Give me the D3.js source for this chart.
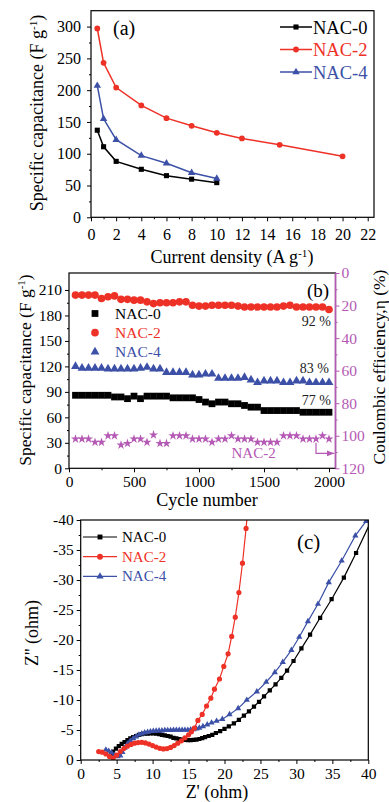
<!DOCTYPE html>
<html>
<head>
<meta charset="UTF-8">
<title>NAC electrochemistry</title>
<script src="https://cdn.jsdelivr.net/npm/d3@7"></script>
<style>
  body { margin: 0; background: #fff; }
  svg { display: block; }
  svg text { font-family: "Liberation Serif", "Times New Roman", serif; }
</style>
</head>
<body>
<script>
// ---------- data ----------
var names = ["NAC-0", "NAC-2", "NAC-4"];
var colors = ["#000000", "#ee3126", "#3b50a6"];
var purple = "#b459b4";

// (a) rate capability
var currA0 = [0.5, 1, 2, 4, 6, 8, 10];
var capA0 = [137, 111, 88, 75.5, 65.5, 60, 54.5];
var currA2 = [0.5, 1, 2, 4, 6, 8, 10, 12, 15, 20];
var capA2 = [297, 243, 204, 176, 156, 144, 133, 124, 114, 96];
var currA4 = [0.5, 1, 2, 4, 6, 8, 10];
var capA4 = [207, 155, 122, 97, 85, 70, 61];
var aXTicks = [0, 2, 4, 6, 8, 10, 12, 14, 16, 18, 20, 22];
var aXMinor = [1, 3, 5, 7, 9, 11, 13, 15, 17, 19, 21];
var aYTicks = [0, 50, 100, 150, 200, 250, 300];
var aYMinor = [25, 75, 125, 175, 225, 275];

// (b) cycling
var cycles = [50, 100, 150, 200, 250, 300, 350, 400, 450, 500, 550, 600, 650, 700, 750, 800, 850, 900, 950, 1000,
  1050, 1100, 1150, 1200, 1250, 1300, 1350, 1400, 1450, 1500, 1550, 1600, 1650, 1700, 1750, 1800, 1850, 1900, 1950, 2000];
var capB0 = [86, 86, 86, 86, 86, 86, 84, 84, 82, 85, 82, 85, 85, 85, 85, 83, 83, 83, 83, 81,
  78, 76, 78, 78, 76, 76, 74, 72, 72, 68, 68, 68, 68, 68, 68, 66, 66, 66, 66, 66];
var capB2 = [204, 204, 204, 204, 200, 202, 203, 199, 199, 198, 198, 196, 194, 195, 195, 195, 196, 196, 192, 191,
  191, 192, 192, 192, 192, 191, 190, 190, 190, 190, 190, 190, 191, 192, 190, 190, 190, 190, 190, 187];
var capB4 = [120, 118, 118, 118, 118, 117, 117, 117, 117, 117, 118, 119, 117, 117, 113, 113, 113, 113, 110, 110,
  111, 111, 106, 106, 106, 106, 107, 104, 101, 103, 103, 103, 101, 101, 103, 103, 101, 101, 101, 101];
var ceB2 = [102, 102, 102, 104, 104, 100, 100, 105.7, 104.7, 102, 102, 104, 99.5, 104.7, 104.7, 100, 100, 100, 102, 102,
  102, 104, 102, 102, 100, 102, 102, 102, 104, 104, 104, 104, 100, 100, 100, 102, 102, 102, 100, 102];
var retention = ["77 %", "92 %", "83 %"];
var bXTicks = [0, 500, 1000, 1500, 2000];
var bXMinor = [250, 750, 1250, 1750];
var bYTicks = [0, 30, 60, 90, 120, 150, 180, 210];
var bYMinor = [15, 45, 75, 105, 135, 165, 195];
var bRTicks = [0, 20, 40, 60, 80, 100, 120];
var bRMinor = [10, 30, 50, 70, 90, 110];

// (c) Nyquist plots [Z', Z'']
var nyq0 = [[4.2, -1.0], [4.5, -1.4], [4.9, -1.9], [5.3, -2.3], [5.7, -2.7], [6.1, -3.0], [6.5, -3.3], [6.9, -3.6],
  [7.3, -3.8], [7.7, -4.0], [8.1, -4.2], [8.5, -4.3], [8.9, -4.4], [9.3, -4.4], [9.7, -4.45], [10.1, -4.45], [10.5, -4.4],
  [10.9, -4.3], [11.3, -4.2], [11.7, -4.1], [12.1, -4.0], [12.5, -3.9], [12.9, -3.7], [13.3, -3.6], [13.7, -3.5],
  [14.1, -3.4], [14.5, -3.35], [14.9, -3.3], [15.3, -3.3], [15.7, -3.35], [16.1, -3.4], [16.5, -3.5], [16.9, -3.65],
  [17.3, -3.8], [17.8, -4.0], [18.3, -4.2], [18.8, -4.5], [19.4, -4.8], [20.0, -5.2], [20.6, -5.6], [21.3, -6.1],
  [22.0, -6.7], [22.7, -7.4], [23.4, -8.1], [24.1, -8.9], [24.8, -9.7], [25.5, -10.6], [26.3, -11.6], [27.1, -12.6],
  [27.9, -13.7], [28.7, -14.9], [29.6, -16.5], [30.7, -18.6], [31.9, -20.9], [33.3, -23.7], [34.9, -26.8],
  [36.6, -30.4], [38.3, -34.5], [40.3, -39.6]];
var nyq2 = [[2.5, -1.4], [3.0, -1.3], [3.5, -1.0], [4.0, -0.6], [4.5, -0.3], [5.0, -0.8], [5.5, -1.4], [6.0, -1.9],
  [6.5, -2.3], [7.0, -2.6], [7.5, -2.8], [8.0, -2.9], [8.5, -2.95], [9.0, -2.85], [9.5, -2.65], [10.0, -2.4],
  [10.5, -2.15], [11.0, -1.95], [11.5, -1.85], [12.0, -1.9], [12.5, -2.1], [13.0, -2.4], [13.5, -2.8], [14.0, -3.2],
  [14.5, -3.7], [15.0, -4.2], [15.4, -4.7], [15.8, -5.3], [16.3, -6.6], [16.9, -7.6], [17.5, -9.0], [18.1, -10.3],
  [18.6, -11.8], [19.3, -13.5], [19.9, -15.6], [20.5, -17.7], [21.0, -20.6], [21.5, -23.8], [22.0, -27.9],
  [22.5, -32.8], [23.0, -38.6], [23.5, -45]];
var nyq4 = [[3.5, -1.7], [3.9, -1.5], [4.3, -1.2], [4.7, -0.8], [5.1, -0.6], [5.5, -0.7], [5.8, -1.3], [6.1, -2.0],
  [6.5, -2.7], [6.9, -3.2], [7.3, -3.6], [7.7, -3.9], [8.1, -4.2], [8.5, -4.4], [8.9, -4.55], [9.3, -4.65],
  [9.7, -4.75], [10.1, -4.8], [10.5, -4.85], [10.9, -4.9], [11.3, -4.9], [11.7, -4.95], [12.1, -4.95], [12.5, -4.95],
  [12.9, -5.0], [13.3, -5.0], [13.7, -5.0], [14.1, -5.0], [14.5, -5.0], [14.9, -5.0], [15.3, -5.05], [15.7, -5.1],
  [16.1, -5.2], [16.5, -5.35], [17.0, -5.6], [17.6, -5.9], [18.2, -6.2], [18.9, -6.5], [19.7, -6.8], [20.7, -7.6],
  [21.9, -8.6], [23.1, -10.0], [24.5, -11.4], [25.8, -13.0], [27.0, -14.6], [28.1, -16.3], [29.3, -18.3],
  [30.4, -20.5], [31.6, -23.1], [33.0, -26.0], [34.5, -29.6], [36.3, -33.2], [38.2, -37.4], [39.7, -39.8]];
var cXTicks = [0, 5, 10, 15, 20, 25, 30, 35, 40];
var cXMinor = [2.5, 7.5, 12.5, 17.5, 22.5, 27.5, 32.5, 37.5];
var cYTicks = [0, -5, -10, -15, -20, -25, -30, -35, -40];
var cYMinor = [-2.5, -7.5, -12.5, -17.5, -22.5, -27.5, -32.5, -37.5];

// ---------- helpers ----------
var svg = d3.select("body").append("svg")
  .attr("width", 389).attr("height", 802);
svg.append("rect").attr("width", 389).attr("height", 802).attr("fill", "#fff");

var shapes = [d3.symbolSquare, d3.symbolCircle, d3.symbolTriangle];
var plain = function (d) { return String(d); };

function axis(g, gen, tr, fs, color) {
  var a = g.append("g").attr("transform", tr).call(gen);
  a.attr("font-size", fs);
  a.select(".domain").remove();
  a.selectAll("line").attr("stroke", color || "#000").attr("stroke-width", 1);
  a.selectAll("text").attr("fill", color || "#000");
  return a;
}
function frame(g, x, y) {
  var x0 = x.range()[0], x1 = x.range()[1], y0 = y.range()[0], y1 = y.range()[1];
  g.append("rect").attr("x", x0).attr("y", Math.min(y0, y1))
    .attr("width", x1 - x0).attr("height", Math.abs(y0 - y1))
    .attr("fill", "none").attr("stroke", "#000").attr("stroke-width", 1.2);
}
function unitText(t, pre, sup, post) {
  t.append("tspan").text(pre);
  t.append("tspan").attr("dy", -6).attr("font-size", "0.62em").text(sup);
  t.append("tspan").attr("dy", 6).text(post);
}
function sym(type, size) { return d3.symbol().type(type).size(size); }

// ---------- (a) ----------
var gA = svg.append("g");
var ax = d3.scaleLinear().domain([0, 22.5]).range([91, 374]);
var ay = d3.scaleLinear().domain([0, 325]).range([217.3, 10.7]);
axis(gA, d3.axisBottom(ax).tickValues(aXTicks).tickSize(4).tickPadding(7).tickFormat(plain), "translate(0,217.3)", 16);
axis(gA, d3.axisBottom(ax).tickValues(aXMinor).tickSize(2).tickFormat(""), "translate(0,217.3)", 16);
axis(gA, d3.axisLeft(ay).tickValues(aYTicks).tickSize(4).tickPadding(6).tickFormat(plain), "translate(91,0)", 16);
axis(gA, d3.axisLeft(ay).tickValues(aYMinor).tickSize(2).tickFormat(""), "translate(91,0)", 16);
frame(gA, ax, ay);

var aSeries = [
  { x: currA0, y: capA0 }, { x: currA2, y: capA2 }, { x: currA4, y: capA4 }
];
var aSizes = [26, 26, 24];
aSeries.forEach(function (s, i) {
  var pts = s.x.map(function (v, j) { return [v, s.y[j]]; });
  gA.append("path").datum(pts)
    .attr("d", d3.line().x(function (d) { return ax(d[0]); }).y(function (d) { return ay(d[1]); }))
    .attr("fill", "none").attr("stroke", colors[i]).attr("stroke-width", 1.5);
  gA.selectAll(".pa" + i).data(pts).enter().append("path")
    .attr("transform", function (d) { return "translate(" + ax(d[0]) + "," + ay(d[1]) + ")"; })
    .attr("d", sym(shapes[i], aSizes[i])).attr("fill", colors[i]);
  // legend
  var ly = 27 + i * 22.5;
  gA.append("line").attr("x1", 280).attr("x2", 312).attr("y1", ly).attr("y2", ly)
    .attr("stroke", colors[i]).attr("stroke-width", 1.5);
  gA.append("path").attr("transform", "translate(296," + ly + ")").attr("d", sym(shapes[i], aSizes[i])).attr("fill", colors[i]);
  gA.append("text").attr("x", 313).attr("y", ly + 6.5).attr("font-size", 18.5).attr("fill", colors[i]).text(names[i]);
});
gA.append("text").attr("x", 113).attr("y", 35).attr("font-size", 20).text("(a)");
unitText(gA.append("text").attr("x", 232).attr("y", 262.5).attr("text-anchor", "middle").attr("font-size", 18),
  "Current density (A g", "-1", ")");
unitText(gA.append("text").attr("transform", "translate(43,113) rotate(-90)").attr("text-anchor", "middle").attr("font-size", 18),
  "Specific capacitance (F g", "-1", ")");

// ---------- (b) ----------
var gB = svg.append("g");
var bx = d3.scaleLinear().domain([0, 2050]).range([69, 335.5]);
var by = d3.scaleLinear().domain([0, 230]).range([468.3, 273]);
var br = d3.scaleLinear().domain([0, 120]).range([273, 468.3]);
axis(gB, d3.axisBottom(bx).tickValues(bXTicks).tickSize(4).tickPadding(4).tickFormat(plain), "translate(0,468.3)", 15.5);
axis(gB, d3.axisBottom(bx).tickValues(bXMinor).tickSize(2).tickFormat(""), "translate(0,468.3)", 15.5);
axis(gB, d3.axisLeft(by).tickValues(bYTicks).tickSize(4).tickPadding(3).tickFormat(plain), "translate(69,0)", 15.5);
axis(gB, d3.axisLeft(by).tickValues(bYMinor).tickSize(2).tickFormat(""), "translate(69,0)", 15.5);
frame(gB, bx, by);
axis(gB, d3.axisRight(br).tickValues(bRTicks).tickSize(4).tickPadding(2).tickFormat(plain), "translate(335.5,0)", 15.5, purple);
axis(gB, d3.axisRight(br).tickValues(bRMinor).tickSize(2).tickFormat(""), "translate(335.5,0)", 15.5, purple);
gB.append("line").attr("x1", 335.5).attr("x2", 335.5).attr("y1", 273).attr("y2", 468.3)
  .attr("stroke", purple).attr("stroke-width", 1.6);

var bSeries = [capB0, capB2, capB4];
var bSizes = [46, 46, 34];
bSeries.forEach(function (vals, i) {
  gB.selectAll(".pb" + i).data(vals).enter().append("path")
    .attr("transform", function (d, j) { return "translate(" + bx(cycles[j]) + "," + by(d) + ")"; })
    .attr("d", sym(shapes[i], bSizes[i])).attr("fill", colors[i]);
  var ly = 313.5 + i * 19.2;
  gB.append("path").attr("transform", "translate(95," + ly + ")").attr("d", sym(shapes[i], bSizes[i])).attr("fill", colors[i]);
  gB.append("text").attr("x", 115).attr("y", ly + 5.5).attr("font-size", 15.5).attr("fill", colors[i]).text(names[i]);
});
gB.selectAll(".star").data(ceB2).enter().append("path")
  .attr("transform", function (d, j) { return "translate(" + bx(cycles[j]) + "," + br(d) + ")"; })
  .attr("d", sym(d3.symbolStar, 26)).attr("fill", purple);

// retention labels
var retAt = [[1790, 80], [1790, 173], [1775, 118]];
retention.forEach(function (t, i) {
  gB.append("text").attr("x", bx(retAt[i][0])).attr("y", by(retAt[i][1]) + 5)
    .attr("font-size", 14).attr("fill", "#222").text(t);
});
// efficiency label + arrow
var defs = svg.append("defs");
defs.append("marker").attr("id", "arr").attr("viewBox", "0 0 10 10").attr("refX", 10).attr("refY", 5)
  .attr("markerWidth", 6).attr("markerHeight", 6).attr("orient", "auto")
  .append("path").attr("d", "M0,1 L10,5 L0,9 Z").attr("fill", purple);
var arrowPts = [[1900, 104.3], [1900, 110.8], [2040, 110.8]];
gB.append("path").datum(arrowPts)
  .attr("d", d3.line().x(function (d) { return bx(d[0]); }).y(function (d) { return br(d[1]); }))
  .attr("fill", "none").attr("stroke", purple).attr("stroke-width", 1.2).attr("marker-end", "url(#arr)");
gB.append("text").attr("x", bx(1250)).attr("y", br(110.5) + 5).attr("font-size", 15).attr("fill", purple).text("NAC-2");
gB.append("text").attr("x", 307).attr("y", 296.5).attr("font-size", 19).text("(b)");
gB.append("text").attr("x", 207).attr("y", 506).attr("text-anchor", "middle").attr("font-size", 18).text("Cycle number");
unitText(gB.append("text").attr("transform", "translate(31,370) rotate(-90)").attr("text-anchor", "middle").attr("font-size", 17.5),
  "Specific capacitance (F g", "-1", ")");
gB.append("text").attr("transform", "translate(385,367) rotate(-90)").attr("text-anchor", "middle")
  .attr("font-size", 17.5).text("Coulombic efficiency,\u03b7 (%)");

// ---------- (c) ----------
var gC = svg.append("g");
var cx = d3.scaleLinear().domain([0, 40]).range([80.7, 368.3]);
var cy = d3.scaleLinear().domain([0, -40]).range([760, 520]);
axis(gC, d3.axisBottom(cx).tickValues(cXTicks).tickSize(4).tickPadding(4).tickFormat(plain), "translate(0,760)", 15.5);
axis(gC, d3.axisBottom(cx).tickValues(cXMinor).tickSize(2).tickFormat(""), "translate(0,760)", 15.5);
axis(gC, d3.axisLeft(cy).tickValues(cYTicks).tickSize(4).tickPadding(3).tickFormat(plain), "translate(80.7,0)", 15.5);
axis(gC, d3.axisLeft(cy).tickValues(cYMinor).tickSize(2).tickFormat(""), "translate(80.7,0)", 15.5);

defs.append("clipPath").attr("id", "clipC").append("rect")
  .attr("x", 80.7).attr("y", 520).attr("width", 287.6).attr("height", 240);
var plotC = gC.append("g").attr("clip-path", "url(#clipC)");
var cSeries = [nyq0, nyq2, nyq4];
var cSizes = [18, 21, 17];
var cOrder = [0, 2, 1];
cOrder.forEach(function (i) {
  var pts = cSeries[i];
  plotC.append("path").datum(pts)
    .attr("d", d3.line().x(function (d) { return cx(d[0]); }).y(function (d) { return cy(d[1]); }))
    .attr("fill", "none").attr("stroke", colors[i]).attr("stroke-width", 1.2);
  plotC.selectAll(".pc" + i).data(pts).enter().append("path")
    .attr("transform", function (d) { return "translate(" + cx(d[0]) + "," + cy(d[1]) + ")"; })
    .attr("d", sym(shapes[i], cSizes[i])).attr("fill", colors[i]);
});
frame(gC, cx, cy);
names.forEach(function (n, i) {
  var ly = 537 + i * 19.7;
  gC.append("line").attr("x1", 83).attr("x2", 117).attr("y1", ly).attr("y2", ly)
    .attr("stroke", colors[i]).attr("stroke-width", 1.2);
  gC.append("path").attr("transform", "translate(100," + ly + ")").attr("d", sym(shapes[i], cSizes[i] + 6)).attr("fill", colors[i]);
  gC.append("text").attr("x", 122).attr("y", ly + 5).attr("font-size", 15).attr("fill", colors[i]).text(n);
});
gC.append("text").attr("x", 297).attr("y", 549).attr("font-size", 21).text("(c)");
gC.append("text").attr("x", 217).attr("y", 798).attr("text-anchor", "middle").attr("font-size", 18).text("Z' (ohm)");
gC.append("text").attr("transform", "translate(38,633) rotate(-90)").attr("text-anchor", "middle")
  .attr("font-size", 18).text("Z'' (ohm)");
</script>
</body>
</html>
